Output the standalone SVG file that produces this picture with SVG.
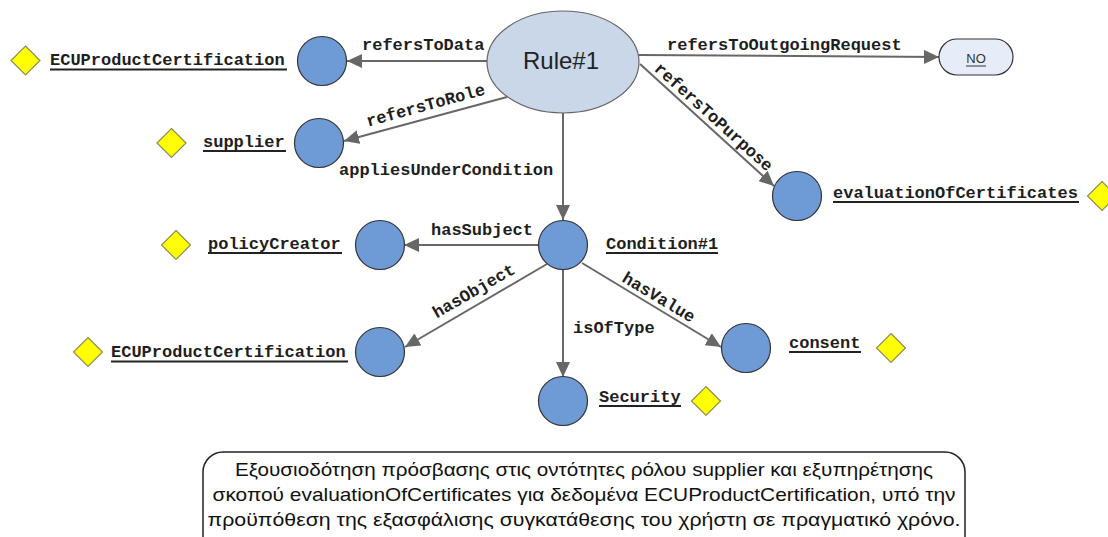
<svg xmlns="http://www.w3.org/2000/svg" width="1108" height="537" viewBox="0 0 1108 537">
  <style>
    .lbl { font-family: "Liberation Mono", "Courier New", monospace; font-weight: bold; font-size: 17px; fill: #1e1e1e; }
    .ul { stroke: #222; stroke-width: 2; }
    .edge { stroke: #676767; stroke-width: 2; fill: none; marker-end: url(#arrow); }
    .res { fill: #6e9bd6; stroke: #333; stroke-width: 1.2; }
    .lit { fill: #ffff00; stroke: #8c8c5a; stroke-width: 1.2; }
    .note { font-family: "Liberation Sans", Arial, sans-serif; font-size: 19px; fill: #111; }
  </style>
  <defs>
    <marker id="arrow" markerUnits="userSpaceOnUse" markerWidth="16" markerHeight="14" refX="15" refY="7" orient="auto">
      <path d="M0,0 L15,7 L0,14 z" fill="#676767"/>
    </marker>
  </defs>

  <rect width="1108" height="537" fill="#ffffff"/>

  <!-- connectors -->
  <g id="connectors">
    <line class="edge" x1="487" y1="61" x2="347" y2="61"/>
    <text class="lbl" x="362" y="50">refersToData</text>

    <line class="edge" x1="507" y1="97" x2="344" y2="141"/>
    <text class="lbl" text-anchor="middle" transform="translate(427 110.5) rotate(-15.3)">refersToRole</text>

    <line class="edge" x1="563" y1="113" x2="563" y2="220"/>
    <text class="lbl" x="339" y="175">appliesUnderCondition</text>

    <line class="edge" x1="639" y1="55" x2="939" y2="57"/>
    <text class="lbl" x="667" y="50">refersToOutgoingRequest</text>

    <line class="edge" x1="640" y1="64" x2="774" y2="186"/>
    <text class="lbl" text-anchor="middle" transform="translate(710 121) rotate(42)">refersToPurpose</text>

    <line class="edge" x1="538" y1="245" x2="404" y2="245"/>
    <text class="lbl" x="431" y="235">hasSubject</text>

    <line class="edge" x1="547" y1="264" x2="405" y2="347"/>
    <text class="lbl" text-anchor="middle" transform="translate(476.5 295.5) rotate(-30)">hasObject</text>

    <line class="edge" x1="563" y1="270" x2="563" y2="377"/>
    <text class="lbl" x="573" y="333">isOfType</text>

    <line class="edge" x1="582" y1="263" x2="721" y2="347"/>
    <text class="lbl" text-anchor="middle" transform="translate(656 302) rotate(31)">hasValue</text>
  </g>

  <!-- rule -->
  <g id="rule1">
    <ellipse cx="563" cy="62" rx="76" ry="51" fill="#c9d7e8" stroke="#666" stroke-width="1.2"/>
    <text x="561" y="69" text-anchor="middle" font-family="Liberation Sans, Arial, sans-serif" font-size="24" fill="#222">Rule#1</text>
  </g>

  <g id="no">
    <rect x="939" y="39" width="74" height="36" rx="18" fill="#e7edf8" stroke="#333" stroke-width="1.2"/>
    <text x="976" y="63" text-anchor="middle" font-family="Liberation Sans, Arial, sans-serif" font-size="13" fill="#333">NO</text>
    <line x1="966" y1="66" x2="986" y2="66" stroke="#333" stroke-width="1"/>
  </g>

  <g id="data">
    <circle class="res" cx="322" cy="61" r="24.5"/>
    <text class="lbl" x="50" y="65">ECUProductCertification</text>
    <line class="ul" x1="50" y1="69.5" x2="287" y2="69.5"/>
    <polygon class="lit" points="25.5,46 40,60.5 25.5,75 11,60.5"/>
  </g>

  <g id="role">
    <circle class="res" cx="319" cy="143" r="24.5"/>
    <text class="lbl" x="203" y="147">supplier</text>
    <line class="ul" x1="203" y1="151" x2="286" y2="151"/>
    <polygon class="lit" points="171.5,128.5 186,143 171.5,157.5 157,143"/>
  </g>

  <g id="purpose">
    <circle class="res" cx="797" cy="196" r="24.5"/>
    <text class="lbl" x="833" y="198">evaluationOfCertificates</text>
    <line class="ul" x1="833" y1="202" x2="1079" y2="202"/>
    <polygon class="lit" points="1102,181.5 1116.5,196 1102,210.5 1087.5,196"/>
  </g>

  <g id="condition1">
    <circle class="res" cx="563" cy="245" r="24.5"/>
    <text class="lbl" x="606" y="249">Condition#1</text>
    <line class="ul" x1="606" y1="253" x2="718" y2="253"/>
  </g>

  <g id="subject">
    <circle class="res" cx="380" cy="245" r="24.5"/>
    <text class="lbl" x="208" y="249">policyCreator</text>
    <line class="ul" x1="208" y1="253" x2="342" y2="253"/>
    <polygon class="lit" points="176,230.5 190.5,245 176,259.5 161.5,245"/>
  </g>

  <g id="object">
    <circle class="res" cx="380" cy="352" r="24.5"/>
    <text class="lbl" x="111" y="357">ECUProductCertification</text>
    <line class="ul" x1="111" y1="361.5" x2="348" y2="361.5"/>
    <polygon class="lit" points="88,337.5 102.5,352 88,366.5 73.5,352"/>
  </g>

  <g id="type">
    <circle class="res" cx="563" cy="401" r="24.5"/>
    <text class="lbl" x="599" y="402">Security</text>
    <line class="ul" x1="599" y1="406" x2="681" y2="406"/>
    <polygon class="lit" points="706,386.5 720.5,401 706,415.5 691.5,401"/>
  </g>

  <g id="value">
    <circle class="res" cx="746" cy="348" r="24.5"/>
    <text class="lbl" x="789" y="348">consent</text>
    <line class="ul" x1="789" y1="352" x2="861" y2="352"/>
    <polygon class="lit" points="891,333.5 905.5,348 891,362.5 876.5,348"/>
  </g>

  <!-- description note -->
  <g id="note">
    <rect x="203" y="452" width="762" height="110" rx="20" fill="#ffffff" stroke="#222" stroke-width="1.5"/>
    <text class="note" x="584" y="476" text-anchor="middle" textLength="698" lengthAdjust="spacingAndGlyphs">Εξουσιοδότηση πρόσβασης στις οντότητες ρόλου supplier και εξυπηρέτησης</text>
    <text class="note" x="584" y="501" text-anchor="middle" textLength="743" lengthAdjust="spacingAndGlyphs">σκοπού evaluationOfCertificates για δεδομένα ECUProductCertification, υπό την</text>
    <text class="note" x="584" y="526" text-anchor="middle" textLength="753" lengthAdjust="spacingAndGlyphs">προϋπόθεση της εξασφάλισης συγκατάθεσης του χρήστη σε πραγματικό χρόνο.</text>
  </g>
</svg>
